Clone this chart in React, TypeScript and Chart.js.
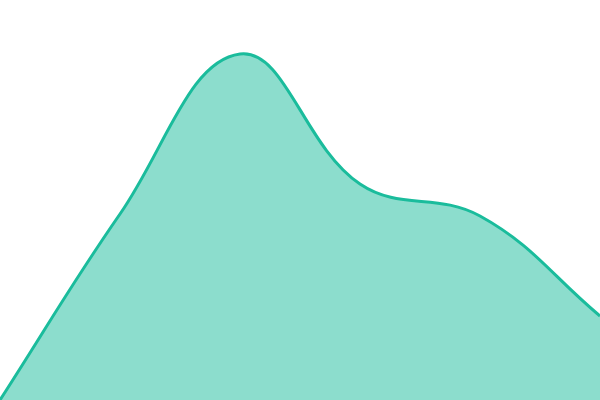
import React, { useEffect, useRef } from "react";
import Chart from "chart.js/auto";

const labels = ["A", "B", "C", "D", "E", "F"];
const values = [0, 46.5, 86.5, 54, 46, 21];

const lineColor = "#1abc9c";
const fillColor = "rgba(26, 188, 156, 0.5)";

export default function App() {
  const canvasEl = useRef<HTMLCanvasElement>(null);

  useEffect(() => {
    document.body.style.margin = "0";
    let chart: Chart<"line", number[], string> | undefined;
    const ctx = canvasEl.current && canvasEl.current.getContext("2d");
    if (ctx) {
      chart = new Chart(ctx, {
        type: "line",
        data: {
          labels: labels,
          datasets: [
            {
              data: values,
              borderColor: lineColor,
              backgroundColor: fillColor,
              borderWidth: 3,
              fill: true,
              tension: 0.4,
              pointRadius: 0,
            },
          ],
        },
        options: {
          animation: false,
          responsive: false,
          layout: { padding: 0 },
          plugins: {
            legend: { display: false },
            tooltip: { enabled: false },
          },
          scales: {
            x: { display: false },
            y: { display: false, min: 0, max: 100 },
          },
        },
      });
    }
    return () => {
      if (chart) chart.destroy();
    };
  }, []);

  return (
    <div>
      <canvas ref={canvasEl} width={600} height={400} />
    </div>
  );
}
